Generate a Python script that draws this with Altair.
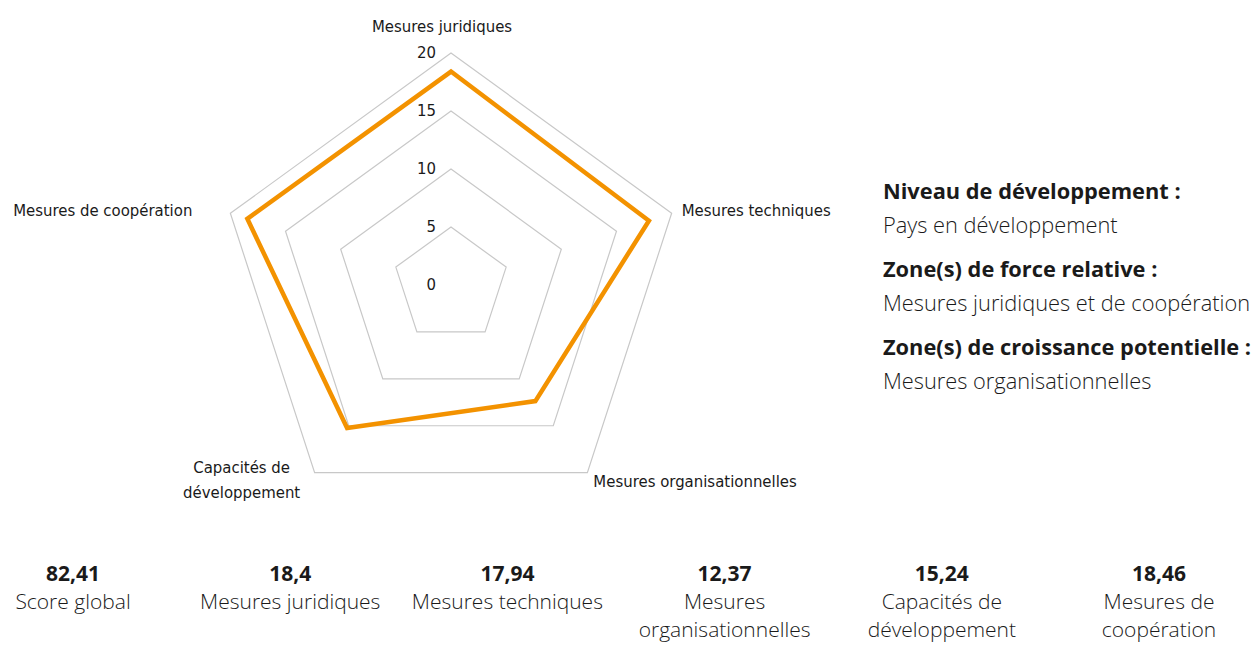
import altair as alt
import pandas as pd

# ---------------- data ----------------
categories = ["Mesures juridiques", "Mesures techniques", "Mesures organisationnelles",
              "Capacités de développement", "Mesures de coopération"]
radar_labels = ["Mesures juridiques", "Mesures techniques", "Mesures organisationnelles",
                "Capacités de\ndéveloppement", "Mesures de coopération"]
values = [18.4, 17.94, 12.37, 15.24, 18.46]
ring_levels = [5, 10, 15, 20]
tick_values = [0, 5, 10, 15, 20]

info_headings = ["Niveau de développement :", "Zone(s) de force relative :",
                 "Zone(s) de croissance potentielle :"]
info_texts = ["Pays en développement", "Mesures juridiques et de coopération",
              "Mesures organisationnelles"]

summary_labels = ["Score global", "Mesures juridiques", "Mesures techniques",
                  "Mesures\norganisationnelles", "Capacités de\ndéveloppement", "Mesures de\ncoopération"]
summary_values = [82.41, 18.4, 17.94, 12.37, 15.24, 18.46]

# ---------------- layout constants ----------------
W, H = 1244, 636
CX, CY = 443, 277            # radar centre in chart pixels
PPU = 232 / 20               # pixels per score unit
XDOM = [-CX / PPU, (W - CX) / PPU]
YDOM = [-(H - CY) / PPU, CY / PPU]
ORANGE = "#F39200"
GRID = "#c8c8c8"
COND = "DejaVu Sans Condensed, sans-serif"
BODY = "Open Sans, Noto Sans, sans-serif"
TXT = "#1a1a1a"
COND_SIZE = 16.6
BODY_SIZE = 21.8
SUM_SIZE = 21

n = len(categories)
axes_df = pd.DataFrame({"category": categories, "label": radar_labels,
                        "value": values, "idx": list(range(n))})
rings_df = pd.DataFrame([{"level": lv, "idx": i} for lv in ring_levels for i in range(n)])
ticks_df = pd.DataFrame({"level": tick_values, "txt": [str(t) for t in tick_values]})
info_df = pd.DataFrame({"head": info_headings, "txt": info_texts, "i": list(range(len(info_texts)))})
summary_df = pd.DataFrame({"label": summary_labels,
                           "val": [str(v).replace(".", ",") for v in summary_values],
                           "i": list(range(len(summary_labels)))})

xs = alt.Scale(domain=XDOM, nice=False, zero=False)
ys = alt.Scale(domain=YDOM, nice=False, zero=False)


def polar(chart, rfield):
    return chart.transform_calculate(
        ang=f"datum.idx * 2 * PI / {n}"
    ).transform_calculate(
        px=f"datum.{rfield} * sin(datum.ang)",
        py=f"datum.{rfield} * cos(datum.ang)",
    )


X = alt.X("px:Q", scale=xs, axis=None)
Y = alt.Y("py:Q", scale=ys, axis=None)

grid = polar(alt.Chart(rings_df), "level").mark_line(
    interpolate="linear-closed", stroke=GRID, strokeWidth=1.2
).encode(x=X, y=Y, detail="level:N", order="idx:Q")

series = polar(alt.Chart(axes_df), "value").mark_line(
    interpolate="linear-closed", stroke=ORANGE, strokeWidth=4.5, strokeJoin="miter"
).encode(x=X, y=Y, order="idx:Q")

ticks = alt.Chart(ticks_df).transform_calculate(px="0", py="datum.level").mark_text(
    align="right", baseline="middle", dx=-15, font=COND, fontSize=COND_SIZE, color=TXT
).encode(x=X, y=Y, text="txt:N")

label_specs = [
    # idx, align, dx, dy
    (0, "center", -9, -21),
    (1, "left", 10, 3),
    (2, "left", 6, 14),
    (3, "center", -73, 0),
    (4, "right", -38, 3),
]
label_layers = []
for k, al, dx, dy in label_specs:
    label_layers.append(
        polar(alt.Chart(axes_df).transform_filter(f"datum.idx == {k}")
              .transform_calculate(rr="20"), "rr")
        .mark_text(align=al, baseline="alphabetic", dx=dx, dy=dy, font=COND,
                   fontSize=COND_SIZE, color=TXT, lineBreak="\n", lineHeight=25)
        .encode(x=X, y=Y, text="label:N")
    )

# right-hand info block
info_head = alt.Chart(info_df).transform_calculate(
    tx="875", ty="190.5 + datum.i * 78"
).mark_text(align="left", baseline="alphabetic", font=BODY, fontSize=BODY_SIZE,
            fontWeight="bold", color=TXT).encode(
    x=alt.X("tx:Q", scale=None, axis=None), y=alt.Y("ty:Q", scale=None, axis=None), text="head:N")

info_txt = alt.Chart(info_df).transform_calculate(
    tx="875", ty="224.5 + datum.i * 78"
).mark_text(align="left", baseline="alphabetic", font=BODY, fontSize=BODY_SIZE,
            fontWeight=300, color=TXT).encode(
    x=alt.X("tx:Q", scale=None, axis=None), y=alt.Y("ty:Q", scale=None, axis=None), text="txt:N")

# bottom summary row
sum_val = alt.Chart(summary_df).transform_calculate(
    tx="65 + datum.i * 217.2", ty="573"
).mark_text(align="center", baseline="alphabetic", font=BODY, fontSize=SUM_SIZE,
            fontWeight="bold", color=TXT).encode(
    x=alt.X("tx:Q", scale=None, axis=None), y=alt.Y("ty:Q", scale=None, axis=None), text="val:N")

sum_lab = alt.Chart(summary_df).transform_calculate(
    tx="65 + datum.i * 217.2", ty="601"
).mark_text(align="center", baseline="alphabetic", font=BODY, fontSize=SUM_SIZE,
            fontWeight=300, color=TXT, lineBreak="\n", lineHeight=28).encode(
    x=alt.X("tx:Q", scale=None, axis=None), y=alt.Y("ty:Q", scale=None, axis=None), text="label:N")

chart = alt.layer(
    grid, series, ticks, *label_layers, info_head, info_txt, sum_val, sum_lab
).resolve_scale(x="independent", y="independent").properties(
    width=W, height=H, padding=0, autosize=alt.AutoSizeParams(type="none"),
    background="white"
).configure_view(stroke=None)

chart.save("out.html", embed_options={"renderer": "svg", "actions": False})
